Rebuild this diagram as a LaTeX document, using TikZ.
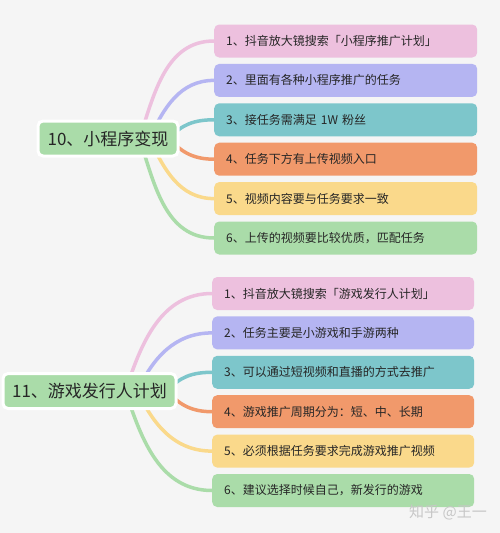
\documentclass[tikz,border=0pt]{standalone}
\usepackage{fontspec}
\usepackage{xcolor}
\usepackage{tikz}
\usetikzlibrary{positioning}
\newfontfamily\cjk{Noto Sans CJK SC}
\definecolor{mapground}{HTML}{F5F5F5}
\definecolor{mappink}{HTML}{EDC0DE}
\definecolor{maplilac}{HTML}{B5B5F2}
\definecolor{mapteal}{HTML}{7DC6CB}
\definecolor{maporange}{HTML}{F1996B}
\definecolor{mapyellow}{HTML}{FAD98B}
\definecolor{mapgreen}{HTML}{AADCA9}
\definecolor{maptext}{HTML}{262626}
\pgfdeclarelayer{background}
\pgfsetlayers{background,main}

\begin{document}
\begin{tikzpicture}[x=1pt,y=-1pt, every node/.style={font=\cjk, text=maptext},
  leaf/.style={rounded corners=5pt, minimum height=33pt, inner xsep=12pt, anchor=west, align=left, font=\cjk\fontsize{12}{14}\selectfont},
  hub/.style={rounded corners=5pt, draw=white, line width=3pt, fill=mapgreen, minimum height=35pt, font=\cjk\fontsize{17}{20}\selectfont},
  twig/.style={line width=3.5pt, line cap=round}]
\begin{pgfonlayer}{background}
\fill[mapground] (0,0) rectangle (500,533);
\end{pgfonlayer}
\useasboundingbox (0,0) rectangle (500,533);
% first branch
\node[hub, minimum width=140pt] (r1) at (108,138.5) {10、小程序变现};
\node[leaf, fill=mappink, text width=239pt] (t1) at (214,41) {1、抖音放大镜搜索「小程序推广计划」};
\node[leaf, fill=maplilac, text width=239pt, below=6pt of t1.south west, anchor=north west] (t2) {2、里面有各种小程序推广的任务};
\node[leaf, fill=mapteal, text width=239pt, below=6pt of t2.south west, anchor=north west] (t3) {3、接任务需满足 1W 粉丝};
\node[leaf, fill=maporange, text width=239pt, below=6pt of t3.south west, anchor=north west] (t4) {4、任务下方有上传视频入口};
\node[leaf, fill=mapyellow, text width=239pt, below=6pt of t4.south west, anchor=north west] (t5) {5、视频内容要与任务要求一致};
\node[leaf, fill=mapgreen, text width=239pt, below=6pt of t5.south west, anchor=north west] (t6) {6、上传的视频要比较优质，匹配任务};
% second branch
\node[hub, minimum width=173pt] (r2) at (89.5,391) {11、游戏发行人计划};
\node[leaf, fill=mappink, text width=238pt] (b1) at (212,293.5) {1、抖音放大镜搜索「游戏发行人计划」};
\node[leaf, fill=maplilac, text width=238pt, below=6pt of b1.south west, anchor=north west] (b2) {2、任务主要是小游戏和手游两种};
\node[leaf, fill=mapteal, text width=238pt, below=6pt of b2.south west, anchor=north west] (b3) {3、可以通过短视频和直播的方式去推广};
\node[leaf, fill=maporange, text width=238pt, below=6pt of b3.south west, anchor=north west] (b4) {4、游戏推广周期分为：短、中、长期};
\node[leaf, fill=mapyellow, text width=238pt, below=6pt of b4.south west, anchor=north west] (b5) {5、必须根据任务要求完成游戏推广视频};
\node[leaf, fill=mapgreen, text width=238pt, below=6pt of b5.south west, anchor=north west] (b6) {6、建议选择时候自己，新发行的游戏};
\node[font=\cjk\fontsize{15}{18}\selectfont, text=black!22] (mark) at (448,512) {知乎 @王一};
\begin{pgfonlayer}{background}
\draw[twig, mappink] ([xshift=-40pt]r1.east) to[out=72, in=180] (t1.west);
\draw[twig, maplilac] ([xshift=-30pt]r1.east) to[out=65, in=180] (t2.west);
\draw[twig, mapteal] ([xshift=-10pt]r1.east) to[out=50, in=180] (t3.west);
\draw[twig, maporange] ([xshift=-10pt]r1.east) to[out=-50, in=180] (t4.west);
\draw[twig, mapyellow] ([xshift=-30pt]r1.east) to[out=-65, in=180] (t5.west);
\draw[twig, mapgreen] ([xshift=-40pt]r1.east) to[out=-72, in=180] (t6.west);
\draw[twig, mappink] ([xshift=-52pt]r2.east) to[out=72, in=180] (b1.west);
\draw[twig, maplilac] ([xshift=-40pt]r2.east) to[out=65, in=180] (b2.west);
\draw[twig, mapteal] ([xshift=-10pt]r2.east) to[out=50, in=180] (b3.west);
\draw[twig, maporange] ([xshift=-10pt]r2.east) to[out=-50, in=180] (b4.west);
\draw[twig, mapyellow] ([xshift=-40pt]r2.east) to[out=-65, in=180] (b5.west);
\draw[twig, mapgreen] ([xshift=-52pt]r2.east) to[out=-72, in=180] (b6.west);
\end{pgfonlayer}
\end{tikzpicture}
\end{document}
